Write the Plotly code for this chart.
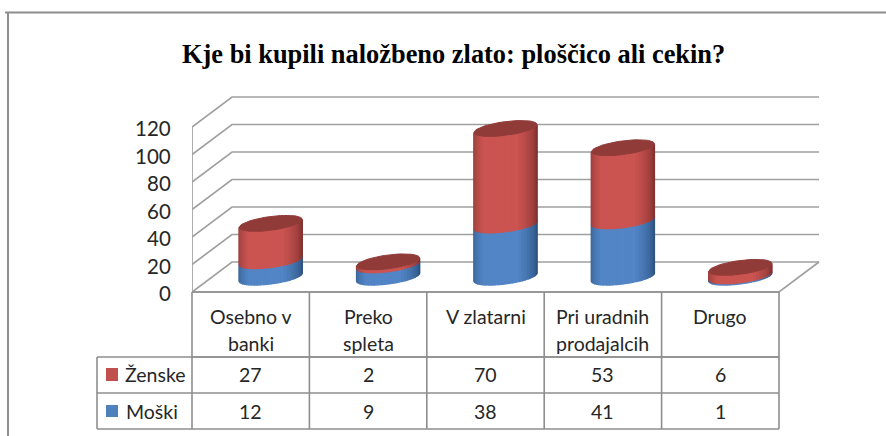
import math
import plotly.graph_objects as go

categories = [["Osebno v", "banki"], ["Preko", "spleta"], ["V zlatarni"], ["Pri uradnih", "prodajalcih"], ["Drugo"]]
zenske = [27, 2, 70, 53, 6]
moski = [12, 9, 38, 41, 1]
tick_values = [0, 20, 40, 60, 80, 100, 120]

W, H = 886, 436
X0, CAT = 192.0, 117.4      # front-left corner px, category width px
Y0, UNIT = 292.0, 1.375     # floor px, px per value unit
DX, DY = 40.0, 30.0         # depth offset px
RX, RY, TILT = 31.5, 6.9, 4.0

def to_x(px):
    return px / CAT
dx = to_x(DX)
dy = DY / UNIT
xmin = -0.5
xmax = xmin + (W - X0) / CAT
ymax = Y0 / UNIT
ymin = (Y0 - H) / UNIT

def px(x):
    return x / W
def py(y):
    return 1 - y / H

def ell(i, v, t):
    cx = i + dx / 2
    base = dy / 2 + v
    return (cx + to_x(RX) * math.cos(t),
            base + (TILT * math.cos(t) + RY * math.sin(t)) / UNIT)

def mix(c1, c2, f):
    return "rgb(%d,%d,%d)" % tuple(round(a + (b - a) * f) for a, b in zip(c1, c2))

fig = go.Figure()

# grid / walls
gx, gy = [], []
for v in tick_values:
    gx += [xmin, xmin + dx, 4.5 + dx, None]
    gy += [v, v + dy, v + dy, None]
gx += [xmin, xmin, None, xmin, 4.5, 4.5 + dx]
gy += [0, 120, None, 0, 0, dy]
fig.add_trace(go.Scatter(x=gx, y=gy, mode="lines", line=dict(color="#a0a0a0", width=1.7),
                         hoverinfo="skip", showlegend=False))

# cylinders, side shaded with strips
N = 28
series = [("Moški", moski, None, (44, 80, 125), (82, 133, 197)),
          ("Ženske", zenske, moski, (125, 48, 46), (203, 84, 81))]
for name, vals, below, dark, light in series:
    for s in range(N):
        t1 = math.pi + math.pi * s / N
        t2 = math.pi + math.pi * (s + 1) / N
        xs, ys = [], []
        for i, v in enumerate(vals):
            lo = below[i] if below else 0
            hi = lo + v
            a1, b1 = ell(i, lo, t1); a2, b2 = ell(i, lo, t2)
            c2, d2 = ell(i, hi, t2); c1, d1 = ell(i, hi, t1)
            xs += [a1, a2, c2, c1, a1, None]
            ys += [b1, b2, d2, d1, b1, None]
        u = (s + 0.5) / N
        f = min(1.0, (1 - abs(u - 0.45) / 0.55) * 1.5)
        fig.add_trace(go.Scatter(x=xs, y=ys, mode="lines", fill="toself",
                                 fillcolor=mix(dark, light, f),
                                 line=dict(width=1.4, color=mix(dark, light, f)),
                                 hoverinfo="skip", showlegend=False, name=name))

# top caps
xs, ys = [], []
for i in range(len(categories)):
    top = moski[i] + zenske[i]
    for k in range(61):
        a, b = ell(i, top, 2 * math.pi * k / 60)
        xs.append(a); ys.append(b)
    xs.append(None); ys.append(None)
fig.add_trace(go.Scatter(x=xs, y=ys, mode="lines", fill="toself", fillcolor="#913b39",
                         line=dict(width=1, color="#913b39"), hoverinfo="skip", showlegend=False))

shapes, ann = [], []
GREY = "#8e8e8e"
def seg(x0, y0, x1, y1, color=GREY, w=1.6):
    shapes.append(dict(type="line", xref="paper", yref="paper", x0=px(x0), y0=py(y0),
                       x1=px(x1), y1=py(y1), line=dict(color=color, width=w), layer="above"))
def text(x, y, s, size=19.5, **kw):
    ann.append(dict(x=px(x), y=py(y), xref="paper", yref="paper", text=s, showarrow=False,
                    font=dict(family=kw.pop("family", "Lato"), size=size, color=kw.pop("color", "#262626")),
                    xanchor=kw.pop("xanchor", "center"), yanchor="middle", **kw))

# y-axis labels placed on the axis scale, slightly below their gridline
for v in tick_values:
    ann.append(dict(x=px(172.5), xref="paper", y=v, yref="y", text=str(v), showarrow=False, yshift=-1,
                    xanchor="right", yanchor="middle",
                    font=dict(family="Lato", size=20.5, color="#262626")))

# frame
seg(5, 12.5, 886, 12.5, w=2)
seg(8, 12, 8, 436, w=2)

# table
col = [X0 + CAT * i for i in range(6)]
R0, R1, R2, R3, LEFT = 292, 357, 393, 429, 97
for y in (R0, R1):
    seg(X0, y, col[5], y)
for y in (R1, R2, R3):
    seg(LEFT, y, col[5], y)
for x in col:
    seg(x, R0, x, R3)
seg(LEFT, R1, LEFT, R3)

for i, lines in enumerate(categories):
    cx = (col[i] + col[i + 1]) / 2
    for k, line in enumerate(lines):
        text(cx, 316 + 27 * k, line)
    text(cx, 374.5, str(zenske[i]))
    text(cx, 411, str(moski[i]))

shapes.append(dict(type="rect", xref="paper", yref="paper", x0=px(106), x1=px(118), y0=py(368), y1=py(381),
                   fillcolor="#c0504d", line=dict(width=0)))
shapes.append(dict(type="rect", xref="paper", yref="paper", x0=px(106), x1=px(118), y0=py(405), y1=py(417),
                   fillcolor="#4f81bd", line=dict(width=0)))
text(123, 374.5, "Ženske", xanchor="left")
text(124, 411, "Moški", xanchor="left")

text(453.5, 54, "Kje bi kupili naložbeno zlato: ploščico ali cekin?", size=26.4,
     family="Liberation Serif", color="#000000")
ann[-1]["font"]["weight"] = "bold"

fig.update_layout(
    width=W, height=H, margin=dict(l=0, r=0, t=0, b=0, pad=0), autosize=False,
    paper_bgcolor="white", plot_bgcolor="white", showlegend=False,
    shapes=shapes, annotations=ann,
    xaxis=dict(domain=[X0 / W, 1], range=[xmin, xmax], visible=False, fixedrange=True),
    yaxis=dict(domain=[0, 1], range=[ymin, ymax], tickvals=tick_values, showticklabels=False,
               showgrid=False, zeroline=False, showline=False, ticks="", fixedrange=True),
)
fig.write_html("out.html", config=dict(displayModeBar=False),
               post_script="document.body.style.margin='0';document.documentElement.style.overflow='hidden';")
